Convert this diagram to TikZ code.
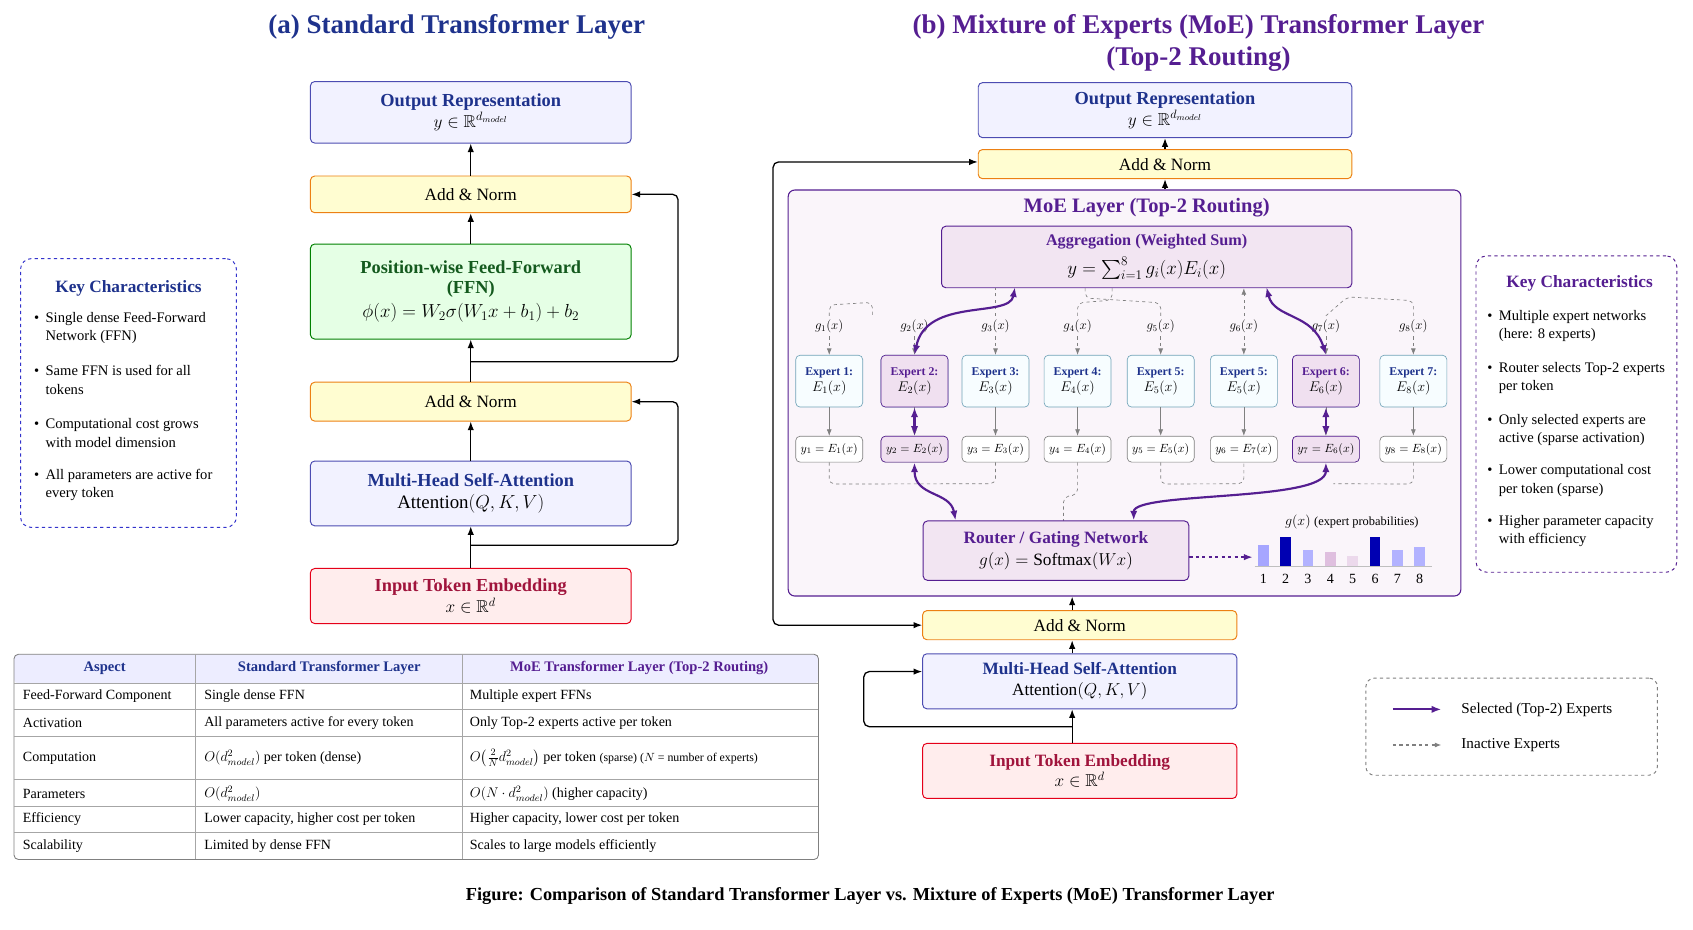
\RequirePackage{fix-cm}
\documentclass[tikz,border=0pt]{standalone}
\usepackage{amsmath}
\usepackage{amsfonts}
\usepackage{fontspec}
\setmainfont{Liberation Serif}
\usetikzlibrary{calc}
\usetikzlibrary{arrows.meta}
\definecolor{tblue}{RGB}{30,50,140}
\definecolor{tpurple}{RGB}{85,30,145}
\definecolor{tgreen}{RGB}{20,90,30}
\definecolor{tred}{RGB}{160,20,60}
\newcommand{\mathBig}[1]{{\fontsize{17.5}{21}\selectfont #1}}
\tikzset{box/.style={draw, rounded corners=4pt, align=center, line width=0.9pt, inner sep=2pt}}
\tikzset{boxBlue/.style={box, draw=blue!40!gray, fill=blue!5}}
\tikzset{boxYel/.style={box, draw=orange!70!brown, fill=yellow!18}}
\tikzset{boxGrn/.style={box, draw=green!50!black, fill=green!10}}
\tikzset{boxRed/.style={box, draw=red!60!purple, fill=red!7}}
\tikzset{boxPur/.style={box, draw=tpurple, fill=violet!10}}
\tikzset{boxExp/.style={box, draw=cyan!40!gray, fill=cyan!3, minimum width=62pt, minimum height=48pt, line width=0.6pt, font=\fontsize{13}{15}\selectfont}}
\tikzset{boxOut/.style={box, draw=gray, fill=white, minimum width=62pt, minimum height=24pt, line width=0.6pt}}
\tikzset{arr/.style={-{Latex[length=8pt]}, line width=1.2pt}}
\tikzset{sel/.style={{Latex[length=9pt]}-{Latex[length=9pt]}, line width=2pt, draw=tpurple}}
\tikzset{inact/.style={-{Latex[length=6pt]}, dashed, draw=gray, line width=0.6pt}}
\tikzset{keyitem/.style={align=left, font=\fontsize{13.5}{17}\selectfont, anchor=west}}
\begin{document}
\begin{tikzpicture}[x=1pt, y=-1pt, font=\fontsize{16}{19}\selectfont]
\useasboundingbox (0,0) rectangle (1568,861);

% titles
\node[tblue, font=\fontsize{25}{29}\selectfont\bfseries] (titleA) at (423,25) {(a) Standard Transformer Layer};
\node[tpurple, font=\fontsize{25}{30}\selectfont\bfseries, align=center] (titleB) at (1110,40) {(b) Mixture of Experts (MoE) Transformer Layer\\(Top-2 Routing)};

% (a) standard layer
\node[boxBlue, minimum width=297pt, minimum height=57pt] (aOut) at (436,104) {\textcolor{tblue}{\bfseries\fontsize{17}{20}\selectfont Output Representation}\\ $y \in \mathbb{R}^{d_{model}}$};
\node[boxYel, minimum width=297pt, minimum height=34pt] (aNorm2) at (436,180) {Add \& Norm};
\node[boxGrn, minimum width=297pt, minimum height=88pt] (aFFN) at (436,270) {\textcolor{tgreen}{\bfseries\fontsize{17}{20}\selectfont Position-wise Feed-Forward}\\ \textcolor{tgreen}{\bfseries\fontsize{17}{20}\selectfont (FFN)}\\[3pt] \mathBig{$\phi(x) = W_2\sigma(W_1x + b_1) + b_2$}};
\node[boxYel, minimum width=297pt, minimum height=36pt] (aNorm1) at (436,372) {Add \& Norm};
\node[boxBlue, minimum width=297pt, minimum height=60pt] (aAttn) at (436,457) {\textcolor{tblue}{\bfseries\fontsize{17}{20}\selectfont Multi-Head Self-Attention}\\[2pt] \mathBig{$\mathrm{Attention}(Q,K,V)$}};
\node[boxRed, minimum width=297pt, minimum height=51pt] (aIn) at (436,552) {\textcolor{tred}{\bfseries\fontsize{17}{20}\selectfont Input Token Embedding}\\ $x \in \mathbb{R}^{d}$};

\draw[arr] (aIn) -- (aAttn);
\draw[arr] (aAttn) -- (aNorm1);
\draw[arr] (aNorm1) -- (aFFN);
\draw[arr] (aFFN) -- (aNorm2);
\draw[arr] (aNorm2) -- (aOut);
\coordinate (aRes1) at (436,505);
\coordinate (aRes2) at (436,335);
\draw[arr, rounded corners=5pt] (aRes1) -- (628,505) -- (628,372) -- (aNorm1.east);
\draw[arr, rounded corners=5pt] (aRes2) -- (628,335) -- (628,180) -- (aNorm2.east);

% key characteristics (a)
\node[draw=blue!60!gray, dashed, rounded corners=10pt, line width=0.9pt, minimum width=200pt, minimum height=249pt, fill=white] (aKey) at (119,364) {};
\node[tblue, font=\fontsize{16}{19}\selectfont\bfseries] (aKeyT) at (119,267) {Key Characteristics};
\foreach \yy/\txt in {304/{Single dense Feed-Forward Network (FFN)}, 352/{Same FFN is used for all tokens}, 401/{Computational cost grows with model dimension}, 449/{All parameters are active for every token}}
  \node[keyitem] at (28,\yy) {\textbullet\hspace{6pt}\parbox[t]{160pt}{\raggedright\txt}};

% table
\fill[blue!7, rounded corners=4pt] (13,606) rectangle (758,633);
\draw[gray, line width=0.8pt, rounded corners=4pt] (13,606) rectangle (758,796);
\foreach \yy in {633,657,682,722,747,771} \draw[gray!70, line width=0.5pt] (13,\yy) -- (758,\yy);
\foreach \xx in {181,428} \draw[gray!70, line width=0.5pt] (\xx,606) -- (\xx,796);
\begin{scope}[font=\fontsize{13}{15}\selectfont]
\node[tblue, font=\fontsize{13.5}{15}\selectfont\bfseries] (hA) at (97,619) {Aspect};
\node[tblue, font=\fontsize{13.5}{15}\selectfont\bfseries] (hB) at (305,619) {Standard Transformer Layer};
\node[tpurple, font=\fontsize{13.5}{15}\selectfont\bfseries] (hC) at (592,619) {MoE Transformer Layer (Top-2 Routing)};
\foreach \yy/\ta/\tb/\tc in {645/Feed-Forward Component/Single dense FFN/Multiple expert FFNs, 670/Activation/All parameters active for every token/Only Top-2 experts active per token, 702/Computation/{$O(d_{model}^2)$ per token (dense)}/{$O\big(\frac{2}{N}d_{model}^2\big)$ per token {\fontsize{11}{13}\selectfont(sparse) ($N$ = number of experts)}}, 735/Parameters/{$O(d_{model}^2)$}/{$O(N\cdot d_{model}^2)$ (higher capacity)}, 759/Efficiency/{Lower capacity, higher cost per token}/{Higher capacity, lower cost per token}, 784/Scalability/Limited by dense FFN/Scales to large models efficiently}
{
  \node[anchor=west, inner sep=1pt] at (20,\yy) {\ta};
  \node[anchor=west, inner sep=1pt] at (188,\yy) {\tb};
  \node[anchor=west, inner sep=1pt] at (434,\yy) {\tc};
}
\end{scope}

% (b) MoE layer
\node[boxBlue, minimum width=346pt, minimum height=51pt] (bOut) at (1079,102) {\textcolor{tblue}{\bfseries\fontsize{17}{20}\selectfont Output Representation}\\ $y \in \mathbb{R}^{d_{model}}$};
\node[boxYel, minimum width=346pt, minimum height=27pt] (bNorm2) at (1079,152) {Add \& Norm};
\node[draw=tpurple, fill=violet!4, rounded corners=6pt, line width=1pt, minimum width=623pt, minimum height=376pt] (moe) at (1041.5,364) {};
\node[tpurple, font=\fontsize{19}{22}\selectfont\bfseries] (moeT) at (1062,192) {MoE Layer (Top-2 Routing)};
\node[boxPur, minimum width=380pt, minimum height=57pt] (agg) at (1062,238) {\textcolor{tpurple}{\bfseries\fontsize{15}{18}\selectfont Aggregation (Weighted Sum)}\\[6pt] \mathBig{$y = \sum_{i=1}^{8} g_i(x)E_i(x)$}};

\foreach \i/\xx/\nm/\en/\yn/\gn in {1/768/1/1/1/1, 2/847/2/2/2/2, 3/922/3/3/3/3, 4/998/4/4/4/4, 5/1075/5/5/5/5, 6/1152/5/5/7/6, 7/1228/6/6/6/7, 8/1309/7/8/8/8}
{
  \node[font=\fontsize{12}{14}\selectfont] (g\i) at (\xx,302) {$g_{\gn}(x)$};
  \node[boxExp] (e\i) at (\xx,353) {\textcolor{tblue}{\bfseries\fontsize{11}{13}\selectfont Expert \nm:}\\ $E_{\en}(x)$};
  \node[boxOut, font=\fontsize{11}{13}\selectfont] (o\i) at (\xx,416) {$y_{\i} = E_{\yn}(x)$};
  \draw[inact] (g\i) -- (e\i);
  \draw[-{Latex[length=6pt]}, draw=gray, line width=0.6pt] (e\i) -- (o\i);
}
\foreach \i/\nm in {2/2,7/6} \node[boxExp, draw=tpurple, fill=violet!12] at (e\i) {\textcolor{tpurple}{\bfseries\fontsize{11}{13}\selectfont Expert \nm:}\\ $E_{\nm}(x)$};
\node[boxOut, draw=tpurple, fill=violet!12, font=\fontsize{11}{13}\selectfont] at (o2) {$y_{2} = E_{2}(x)$};
\node[boxOut, draw=tpurple, fill=violet!12, font=\fontsize{11}{13}\selectfont] at (o7) {$y_{7} = E_{6}(x)$};

% inactive gating paths
\draw[dashed, gray, line width=0.6pt, rounded corners=5pt] (g1.north) -- ++(0,-10) -- (808,280) -- (808,292);
\draw[dashed, gray, line width=0.6pt, rounded corners=5pt] (g3.north) -- (g3.north |- agg.south);
\draw[dashed, gray, line width=0.6pt, rounded corners=5pt] (g4.north) -- ++(0,-12) -- (1030,278) -- (1030,266);
\draw[dashed, gray, line width=0.6pt, rounded corners=5pt] (g5.north) -- ++(0,-12) -- (1005,276) -- (1005,266);
\draw[inact] (g6.north) -- (g6.north |- agg.south);
\draw[dashed, gray, line width=0.6pt, rounded corners=5pt] (g8.north) -- ++(0,-14) -- (1248,275) -- (g7.north);
\draw[dashed, gray, line width=0.6pt, rounded corners=5pt] (o1.south) -- ++(0,20) -- (922,448) -- (o3.south);
\draw[dashed, gray, line width=0.6pt, rounded corners=5pt] (o4.south) -- ++(0,30) -- (985,460) -- (985,483);
\draw[dashed, gray, line width=0.6pt, rounded corners=5pt] (o5.south) -- ++(0,20) -- (o6.south |- 448,448) -- (o6.south);
\draw[dashed, gray, line width=0.6pt, rounded corners=5pt] (o8.south) -- ++(0,20) -- (1235,448);

% router
\node[boxPur, minimum width=246pt, minimum height=55pt] (router) at (978,510) {\textcolor{tpurple}{\bfseries\fontsize{16}{19}\selectfont Router / Gating Network}\\[2pt] $g(x) = \mathrm{Softmax}(Wx)$};

% selected paths
\draw[sel] (940,266) .. controls (935,295) and (858,275) .. (e2.north);
\draw[sel] (1173,266) .. controls (1180,295) and (1216,290) .. (e7.north);
\draw[sel] (e2) -- (o2);
\draw[sel] (e7) -- (o7);
\draw[sel] (router.north -| 885,0) .. controls (880,455) and (847,460) .. (o2.south);
\draw[sel] (router.north -| 1050,0) .. controls (1050,455) and (1228,465) .. (o7.south);

% probabilities
\node[font=\fontsize{13}{15}\selectfont] (probT) at (1252,483) {$g(x)$ {\fontsize{11.5}{13}\selectfont(expert probabilities)}};
\coordinate (bar0) at (1160,516);
\draw[-{Latex[length=8pt]}, dashed, tpurple, line width=1.2pt] (router.east |- bar0) -- (bar0);
\draw[gray!50, line width=0.5pt] (1162,524) -- (1326,524);
\foreach \k/\h/\c in {1/19/blue!35, 2/27/blue!70!black, 3/15/blue!30, 4/13/violet!25, 5/9/violet!15, 6/27/blue!70!black, 7/15/blue!30, 8/17/blue!30}
{
  \fill[\c] (1170+20.7*\k-20.7-5,524) rectangle ++(10,-\h);
  \node[font=\fontsize{13}{15}\selectfont] at (1170+20.7*\k-20.7,536) {\k};
}

\node[boxYel, minimum width=291pt, minimum height=27pt] (bNorm1) at (1000,579) {Add \& Norm};
\node[boxBlue, minimum width=291pt, minimum height=51pt] (bAttn) at (1000,631) {\textcolor{tblue}{\bfseries\fontsize{16}{19}\selectfont Multi-Head Self-Attention}\\ $\mathrm{Attention}(Q,K,V)$};
\node[boxRed, minimum width=291pt, minimum height=51pt] (bIn) at (1000,714) {\textcolor{tred}{\bfseries\fontsize{16}{19}\selectfont Input Token Embedding}\\ $x \in \mathbb{R}^{d}$};

\draw[arr] (bIn.north -| 993,0) -- (bAttn.south -| 993,0);
\draw[arr] (bAttn.north -| 993,0) -- (bNorm1.south -| 993,0);
\draw[arr] (bNorm1.north -| 993,0) -- (moe.south -| 993,0);
\draw[arr] (moe.north -| 1079,0) -- (bNorm2);
\draw[arr] (bNorm2) -- (bOut);
\coordinate (bRes1) at (993,673);
\draw[arr, rounded corners=5pt] (bRes1) -- (800,673) -- (800,622) -- (bAttn.west |- 800,622);
\draw[arr, {Latex[length=8pt]}-{Latex[length=8pt]}, rounded corners=5pt] (bNorm1.west) -- (716,579) -- (716,150) -- (bNorm2.west |- 716,150);

% key characteristics (b)
\node[draw=tpurple, dashed, rounded corners=10pt, line width=0.9pt, minimum width=186pt, minimum height=293pt] (bKey) at (1460,383.5) {};
\node[tpurple, font=\fontsize{16}{19}\selectfont\bfseries] (bKeyT) at (1463,262) {Key Characteristics};
\foreach \yy/\txt in {302/{Multiple expert networks (here: 8 experts)}, 350/{Router selects Top-2 experts per token}, 398/{Only selected experts are active (sparse activation)}, 445/{Lower computational cost per token (sparse)}, 492/{Higher parameter capacity with efficiency}}
  \node[keyitem] at (1374,\yy) {\textbullet\hspace{6pt}\parbox[t]{160pt}{\raggedright\txt}};

% legend
\node[draw=gray, dashed, rounded corners=8pt, line width=0.9pt, minimum width=270pt, minimum height=90pt] (legend) at (1400,673) {};
\coordinate (l1a) at (1290,657); \coordinate (l1b) at (1335,657);
\coordinate (l2a) at (1290,690); \coordinate (l2b) at (1335,690);
\draw[tpurple, line width=2pt, -{Latex[length=9pt]}] (l1a) -- (l1b);
\draw[inact, line width=1pt] (l2a) -- (l2b);
\node[anchor=west, font=\fontsize{14}{17}\selectfont] (lg1) at (1350,657) {Selected (Top-2) Experts};
\node[anchor=west, font=\fontsize{14}{17}\selectfont] (lg2) at (1350,690) {Inactive Experts};

% caption
\node[font=\fontsize{17}{20}\selectfont\bfseries] (caption) at (806,830) {Figure: Comparison of Standard Transformer Layer vs. Mixture of Experts (MoE) Transformer Layer};
\end{tikzpicture}
\end{document}
